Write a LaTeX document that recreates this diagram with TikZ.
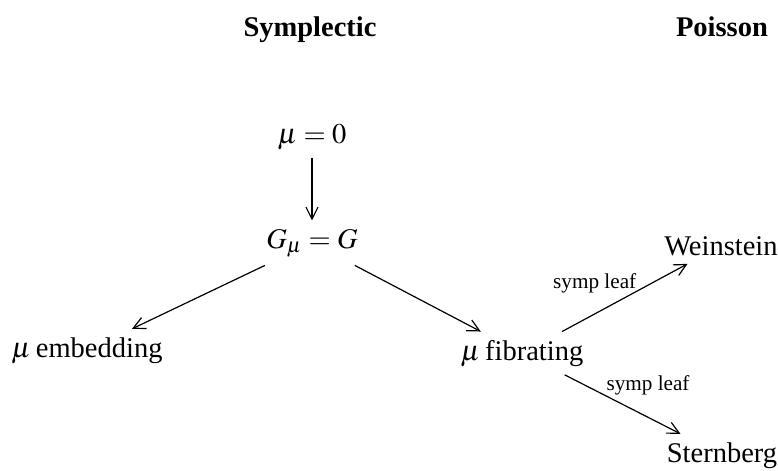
\documentclass[tikz,border=0pt]{standalone}
\usepackage{mathptmx}
\usepackage{fontspec}
\setmainfont{Liberation Serif}
\usetikzlibrary{arrows.meta}
\begin{document}
\begin{tikzpicture}[x=0.5pt,y=-0.5pt,
  obj/.style={inner sep=4pt, font=\fontsize{14.25}{17}\selectfont, anchor=base},
  head/.style={inner sep=0pt, font=\fontsize{14.25}{17}\selectfont\bfseries, anchor=base},
  arr/.style={line width=0.6pt, -{Straight Barb[length=6pt,width=6pt]}},
  lab/.style={font=\fontsize{10.6}{12}\selectfont, inner sep=2pt}]
\useasboundingbox (0,0) rectangle (778,471);
\node[head] (sym) at (310,37) {Symplectic};
\node[head] (poi) at (722,37) {Poisson};
\node[obj] (mz) at (312,143) {$\mu=0$};
\node[obj] (gg) at (312,248) {$G_\mu=G$};
\node[obj] (emb) at (87,357) {$\mu$\hspace{0.17em}embedding};
\node[obj] (fib) at (522,360) {$\mu$\hspace{0.17em}fibrating};
\node[obj] (wei) at (721,255) {Weinstein};
\node[obj] (ste) at (722,462) {Sternberg};
\draw[arr] (mz) -- (gg);
\draw[arr] (gg) -- (emb);
\draw[arr] (gg) -- (fib);
\draw[arr] (fib) -- node[lab, pos=0.26, above=8pt] (l1) {symp leaf} (wei);
\draw[arr] ([xshift=-13.5pt]fib.south east) -- node[lab, pos=0.72, above=9pt] (l2) {symp leaf} ([xshift=11pt]ste.north west);
\end{tikzpicture}
\end{document}
